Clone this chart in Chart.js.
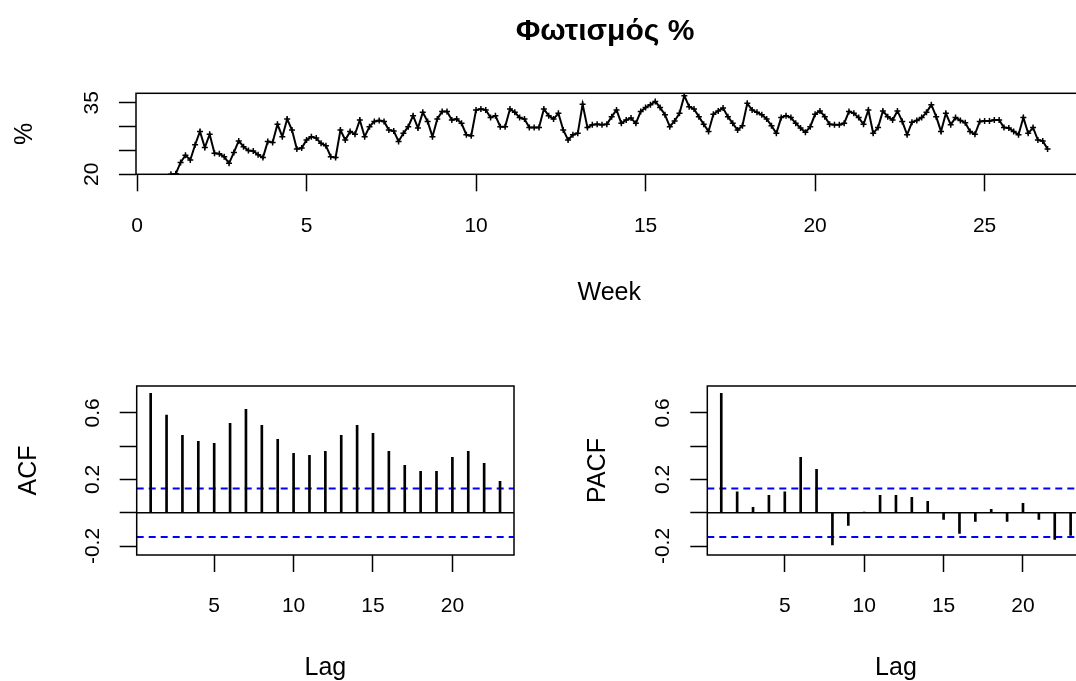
<!DOCTYPE html>
<html>
<head>
<meta charset="utf-8">
<script src="https://cdn.jsdelivr.net/npm/chart.js@4/dist/chart.umd.min.js"></script>
<style>
  html, body { margin: 0; padding: 0; background: #fff; overflow: hidden; width: 1076px; height: 681px; }
  canvas { position: absolute; }
</style>
</head>
<body>
<canvas id="series" width="1100" height="330" style="left:0;top:0"></canvas>
<canvas id="acf" width="570" height="351" style="left:0;top:330px"></canvas>
<canvas id="pacf" width="530" height="351" style="left:570px;top:330px"></canvas>
<script>
// daily values, one row per week (ts starting at week 1, frequency 7)
var startWeek = 1;
var perWeek = 7;
var light = [
  20.0, 20.1, 22.5, 24.0, 23.0, 26.2, 29.0,
  25.6, 28.4, 24.4, 24.3, 23.7, 22.3, 24.6,
  27.0, 25.8, 25.0, 24.9, 24.1, 23.5, 26.9,
  26.7, 30.5, 27.9, 31.6, 29.3, 25.3, 25.5,
  27.2, 27.9, 27.6, 26.5, 26.0, 23.7, 23.5,
  29.3, 27.2, 29.0, 28.4, 31.4, 27.9, 30.0,
  31.1, 31.3, 31.1, 29.3, 29.1, 26.9, 28.6,
  30.0, 32.3, 29.7, 33.0, 31.1, 27.9, 31.6,
  33.2, 33.2, 31.4, 31.6, 30.7, 28.3, 28.1,
  33.5, 33.7, 33.5, 31.9, 32.3, 30.0, 30.0,
  33.7, 33.0, 31.9, 31.6, 29.8, 29.8, 29.8,
  33.7, 32.3, 31.6, 32.8, 29.3, 27.2, 28.3,
  28.6, 34.7, 29.8, 30.4, 30.5, 30.4, 30.5,
  32.1, 33.5, 30.7, 31.4, 31.8, 30.7, 33.2,
  34.0, 34.6, 35.3, 34.0, 32.5, 30.0, 31.2,
  32.8, 36.5, 34.2, 33.7, 32.1, 30.5, 29.0,
  32.6, 33.3, 33.9, 32.1, 30.7, 29.3, 30.2,
  34.9, 33.5, 33.0, 32.5, 31.6, 30.2, 28.6,
  31.9, 32.3, 31.9, 30.7, 29.7, 28.8, 30.0,
  32.6, 33.3, 32.1, 30.5, 30.4, 30.4, 30.7,
  33.2, 32.8, 31.9, 30.5, 33.5, 28.6, 29.8,
  33.3, 32.1, 31.4, 33.3, 31.1, 28.3, 30.9,
  31.3, 31.9, 33.0, 34.6, 32.1, 29.0, 32.8,
  30.4, 31.9, 31.3, 30.8, 29.0, 28.4, 31.1,
  31.2, 31.2, 31.4, 31.4, 29.8, 29.7, 29.0,
  28.3, 31.9, 28.6, 29.8, 27.2, 27.0, 25.3
];

var lags = [1, 2, 3, 4, 5, 6, 7, 8, 9, 10, 11, 12, 13, 14, 15, 16, 17, 18, 19, 20, 21, 22, 23];
var acfVals = [0.717, 0.587, 0.464, 0.428, 0.416, 0.537, 0.621, 0.525, 0.440, 0.356, 0.344, 0.368,
               0.464, 0.525, 0.476, 0.368, 0.284, 0.248, 0.248, 0.332, 0.368, 0.296, 0.188];
var pacfVals = [0.717, 0.126, 0.032, 0.104, 0.126, 0.332, 0.260, -0.194, -0.076, 0.004, 0.104, 0.104,
                0.092, 0.068, -0.040, -0.124, -0.052, 0.020, -0.052, 0.056, -0.040, -0.160, -0.136];
var ciBound = 0.146;

// axis ticks (and which of them get a label)
var weekTicks = [0, 5, 10, 15, 20, 25];
var pctTicks = [20, 25, 30, 35];
var pctLabelled = [20, 35];
var lagTicks = [5, 10, 15, 20];
var corrTicks = [-0.2, 0, 0.2, 0.4, 0.6];
var corrLabelled = [-0.2, 0.2, 0.6];

var weekMin = -0.03, weekMax = 27.89;
var pctMin = 20, pctMax = 37;
var lagMin = 0.12, lagMax = 23.88;
var corrMin = -0.254, corrMax = 0.761;

Chart.defaults.font.family = '"Liberation Sans", Arial, sans-serif';
Chart.defaults.color = '#000';

// box round the plot region, like R's bty="o"
var frame = {
  id: 'frame',
  afterDraw: function(chart) {
    var ctx = chart.ctx, a = chart.chartArea;
    ctx.save();
    ctx.strokeStyle = '#000';
    ctx.lineWidth = 1.5;
    ctx.strokeRect(a.left, a.top, a.right - a.left, a.bottom - a.top);
    ctx.restore();
  }
};

// main title centred over the plot region
var mainTitle = {
  id: 'mainTitle',
  afterDraw: function(chart, args, opts) {
    if (!opts || !opts.text) return;
    var ctx = chart.ctx, a = chart.chartArea;
    ctx.save();
    ctx.font = opts.font;
    ctx.fillStyle = '#000';
    ctx.textAlign = 'center';
    ctx.textBaseline = 'middle';
    ctx.fillText(opts.text, opts.x, opts.y);
    ctx.restore();
  }
};

function xAxis(min, max, ticks, title, height, titlePad) {
  return {
    type: 'linear', min: min, max: max, offset: false,
    afterBuildTicks: function(s) { s.ticks = ticks.map(function(v) { return {value: v}; }); },
    afterFit: function(s) { s.height = height; s.paddingLeft = 0; s.paddingRight = 0; },
    border: {display: false},
    grid: {display: true, offset: false, drawOnChartArea: false, drawTicks: true,
           tickLength: 17, tickWidth: 1.5, tickColor: '#000'},
    ticks: {autoSkip: false, minRotation: 0, maxRotation: 0, padding: 21.9,
            font: {size: 21}, color: '#000', callback: function(v) { return String(v); }},
    title: {display: true, text: title, font: {size: 25}, color: '#000', padding: {top: 0, bottom: titlePad}}
  };
}

function yAxis(min, max, ticks, labelled, digits, title, width, labelPad, titlePad) {
  return {
    type: 'linear', min: min, max: max,
    afterBuildTicks: function(s) { s.ticks = ticks.map(function(v) { return {value: v}; }); },
    afterFit: function(s) { s.width = width; s.paddingTop = 0; s.paddingBottom = 0; },
    border: {display: false},
    grid: {display: true, offset: false, drawOnChartArea: false, drawTicks: true,
           tickLength: 17, tickWidth: 1.5, tickColor: '#000'},
    ticks: {autoSkip: false, minRotation: 90, maxRotation: 90, crossAlign: 'center', padding: labelPad,
            font: {size: 21}, color: '#000',
            callback: function(v) { return labelled.indexOf(v) >= 0 ? v.toFixed(digits) : ''; }},
    title: {display: true, text: title, font: {size: 25}, color: '#000', padding: {top: titlePad, bottom: 0}}
  };
}

var common = {
  responsive: false, animation: false, devicePixelRatio: 1,
  plugins: {legend: {display: false}, tooltip: {enabled: false}}
};

// time series
new Chart(document.getElementById('series'), {
  type: 'line',
  data: {
    datasets: [{
      data: light.map(function(v, i) { return {x: startWeek + i / perWeek, y: v}; }),
      borderColor: '#000', borderWidth: 2, tension: 0,
      pointStyle: 'cross', pointRadius: 3, pointBorderColor: '#000', pointBorderWidth: 1.5
    }]
  },
  options: Object.assign({}, common, {
    layout: {padding: {top: 93.3, right: 17.4, left: 0, bottom: 0}},
    plugins: {legend: {display: false}, tooltip: {enabled: false},
              mainTitle: {text: 'Φωτισμός %', font: 'bold 30px "Liberation Sans", Arial, sans-serif', x: 605, y: 32}},
    scales: {
      x: xAxis(weekMin, weekMax, weekTicks, 'Week', 155.7, 22),
      y: yAxis(pctMin, pctMax, pctTicks, pctLabelled, 0, '%', 136, 15.3, 10)
    }
  }),
  plugins: [frame, mainTitle]
});

function corrChart(id, vals, name, yWidth, rightPad, titlePad) {
  var edge = [lagMin, lagMax];
  function hline(y) { return edge.map(function(x) { return {x: x, y: y}; }); }
  return new Chart(document.getElementById(id), {
    type: 'bar',
    data: {
      datasets: [
        {type: 'bar', data: lags.map(function(l, i) { return {x: l, y: vals[i]}; }),
         backgroundColor: '#000', barThickness: 2},
        {type: 'line', data: hline(0), borderColor: '#000', borderWidth: 1.5, pointRadius: 0},
        {type: 'line', data: hline(ciBound), borderColor: '#0000ff', borderWidth: 2, borderDash: [7, 5], pointRadius: 0},
        {type: 'line', data: hline(-ciBound), borderColor: '#0000ff', borderWidth: 2, borderDash: [7, 5], pointRadius: 0}
      ]
    },
    options: Object.assign({}, common, {
      layout: {padding: {top: 56, right: rightPad, left: 0, bottom: 0}},
      scales: {
        x: xAxis(lagMin, lagMax, lagTicks, 'Lag', 126, -2.5),
        y: yAxis(corrMin, corrMax, corrTicks, corrLabelled, 1, name, yWidth, 8.9, titlePad)
      }
    }),
    plugins: [frame]
  });
}

corrChart('acf', acfVals, 'ACF', 136.7, 56, 14);
corrChart('pacf', pacfVals, 'PACF', 137.3, 15.4, 13);
</script>
</body>
</html>
